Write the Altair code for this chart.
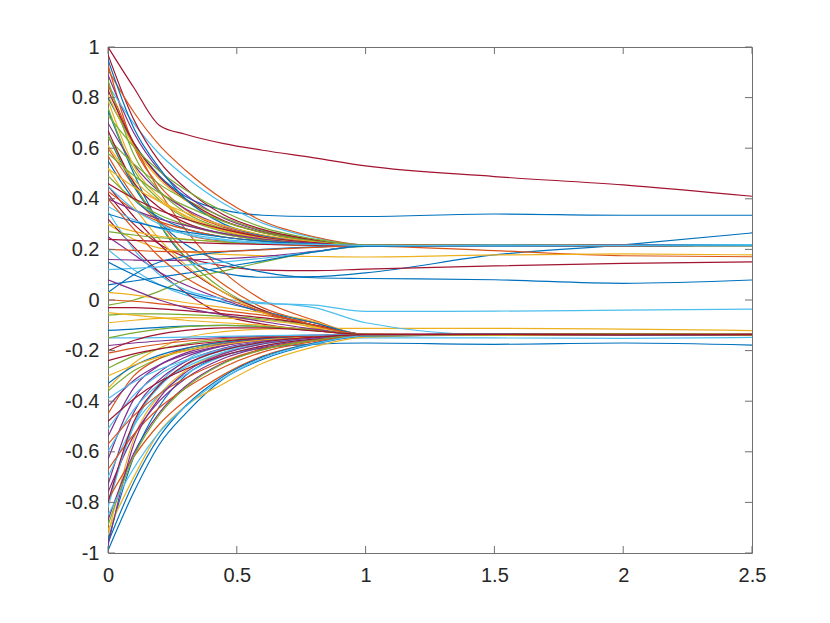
import altair as alt
import pandas as pd

X_KNOTS = [0, 0.1, 0.2, 0.3, 0.45, 0.6, 0.8, 1.0, 1.5, 2.0, 2.5]

X_TICKS = [0, 0.5, 1, 1.5, 2, 2.5]
Y_TICKS = [-1, -0.8, -0.6, -0.4, -0.2, 0, 0.2, 0.4, 0.6, 0.8, 1]

# MATLAB default colour order (lines take colours cyclically in plotting order)
PALETTE = ["#0072BD", "#D95319", "#EDB120", "#7E2F8E", "#77AC30", "#4DBEEE", "#A2142F"]

LINES_A = [
    [0.80, 0.62, 0.49, 0.41, 0.355, 0.335, 0.33, 0.33, 0.34, 0.335, 0.335],
    [0.93, 0.608, 0.451, 0.358, 0.287, 0.251, 0.226, 0.215, 0.216, 0.214, 0.218],
    [-0.93, -0.549, -0.375, -0.280, -0.208, -0.173, -0.149, -0.137, -0.137, -0.135, -0.138],
    [0.89, 0.661, 0.512, 0.418, 0.323, 0.272, 0.235, 0.214, 0.215, 0.217, 0.216],
    [-0.36, -0.280, -0.231, -0.199, -0.170, -0.155, -0.144, -0.137, -0.136, -0.138, -0.136],
    [0.85, 0.698, 0.577, 0.488, 0.380, 0.304, 0.247, 0.218, 0.214, 0.216, 0.219],
    [1.0, 0.84, 0.69, 0.655, 0.618, 0.592, 0.562, 0.53, 0.488, 0.455, 0.41],

    [0.75, 0.50, 0.30, 0.17, 0.105, 0.09, 0.092, 0.107, 0.178, 0.218, 0.265],
    [0.60, 0.45, 0.31, 0.19, 0.06, -0.03, -0.09, -0.137, -0.139, -0.137, -0.135],
    [0.81, 0.608, 0.477, 0.394, 0.310, 0.266, 0.233, 0.216, 0.217, 0.215, 0.215],
    [-0.87, -0.606, -0.445, -0.342, -0.247, -0.196, -0.159, -0.137, -0.135, -0.136, -0.139],
    [0.76, 0.515, 0.395, 0.324, 0.270, 0.242, 0.223, 0.216, 0.216, 0.214, 0.218],
    [-0.82, -0.492, -0.342, -0.260, -0.198, -0.168, -0.147, -0.137, -0.137, -0.135, -0.138],
    [0.42, 0.30, 0.22, 0.17, 0.135, 0.118, 0.116, 0.122, 0.135, 0.145, 0.151],

    [0.65, 0.45, 0.31, 0.22, 0.15, 0.11, 0.088, 0.085, 0.08, 0.066, 0.079],
    [0.57, 0.41, 0.31, 0.26, 0.232, 0.221, 0.216, 0.214, 0.195, 0.175, 0.171],
    [0.30, 0.24, 0.205, 0.19, 0.18, 0.175, 0.172, 0.170, 0.178, 0.182, 0.178],
    [0.70, 0.535, 0.428, 0.361, 0.293, 0.256, 0.230, 0.215, 0.215, 0.217, 0.216],
    [0.65, 0.46, 0.30, 0.17, 0.04, -0.04, -0.10, -0.137, -0.136, -0.138, -0.136],
    [0.20, 0.12, 0.06, 0.02, -0.005, -0.014, -0.02, -0.045, -0.044, -0.04, -0.036],
    [0.32, 0.21, 0.11, 0.03, -0.06, -0.095, -0.12, -0.137, -0.139, -0.137, -0.135],

    [-0.95, -0.62, -0.42, -0.30, -0.22, -0.19, -0.175, -0.17, -0.175, -0.17, -0.178],
    [0.85, 0.62, 0.43, 0.28, 0.11, 0.0, -0.08, -0.136, -0.135, -0.136, -0.139],
    [-0.35, -0.25, -0.19, -0.15, -0.125, -0.115, -0.112, -0.112, -0.112, -0.115, -0.121],
    [0.25, 0.18, 0.11, 0.06, 0.0, -0.05, -0.10, -0.137, -0.137, -0.135, -0.138],
    [-0.02, 0.0, 0.035, 0.08, 0.115, 0.15, 0.19, 0.212, 0.216, 0.215, 0.217],
    [0.35, 0.20, 0.10, 0.04, 0.005, -0.01, -0.03, -0.09, -0.138, -0.136, -0.137],
    [0.45, 0.33, 0.22, 0.13, 0.03, -0.04, -0.10, -0.138, -0.136, -0.138, -0.136],
]

LINES_B = [
    [0.03, 0.10, 0.15, 0.172, 0.19, 0.20, 0.21, 0.215, 0.214, 0.216, 0.219],
    [-0.79, -0.620, -0.490, -0.398, -0.294, -0.222, -0.170, -0.140, -0.137, -0.135, -0.138],
    [0.52, 0.37, 0.24, 0.14, 0.03, -0.05, -0.11, -0.137, -0.136, -0.138, -0.136],
    [-0.76, -0.536, -0.399, -0.311, -0.230, -0.187, -0.156, -0.137, -0.139, -0.137, -0.135],
    [0.64, 0.538, 0.457, 0.398, 0.326, 0.275, 0.236, 0.217, 0.217, 0.215, 0.215],
    [-0.80, -0.50, -0.33, -0.24, -0.18, -0.16, -0.152, -0.15, -0.15, -0.152, -0.148],
    [0.97, 0.713, 0.547, 0.442, 0.336, 0.279, 0.238, 0.215, 0.216, 0.214, 0.218],

    [-0.99, -0.76, -0.57, -0.45, -0.31, -0.235, -0.175, -0.143, -0.137, -0.135, -0.138],
    [0.91, 0.743, 0.611, 0.514, 0.396, 0.312, 0.250, 0.218, 0.215, 0.217, 0.216],
    [-0.91, -0.70, -0.52, -0.42, -0.33, -0.25, -0.185, -0.147, -0.136, -0.138, -0.136],
    [-0.73, -0.445, -0.315, -0.244, -0.190, -0.164, -0.146, -0.137, -0.137, -0.135, -0.138],
    [0.87, 0.575, 0.431, 0.346, 0.281, 0.248, 0.225, 0.216, 0.214, 0.216, 0.219],
    [-0.70, -0.497, -0.373, -0.295, -0.221, -0.182, -0.154, -0.137, -0.136, -0.138, -0.136],
    [0.83, 0.621, 0.486, 0.400, 0.313, 0.267, 0.233, 0.214, 0.216, 0.214, 0.218],

    [-0.96, -0.72, -0.54, -0.42, -0.30, -0.225, -0.17, -0.142, -0.139, -0.137, -0.135],
    [-0.67, -0.531, -0.425, -0.350, -0.265, -0.206, -0.164, -0.140, -0.137, -0.135, -0.138],
    [0.79, 0.531, 0.405, 0.330, 0.273, 0.244, 0.224, 0.215, 0.217, 0.215, 0.215],
    [-0.63, -0.393, -0.285, -0.226, -0.181, -0.159, -0.144, -0.137, -0.136, -0.138, -0.136],
    [0.73, 0.606, 0.509, 0.436, 0.349, 0.287, 0.241, 0.217, 0.215, 0.217, 0.216],
    [-0.60, -0.433, -0.331, -0.267, -0.206, -0.174, -0.151, -0.137, -0.137, -0.135, -0.138],
    [0.67, 0.465, 0.365, 0.306, 0.261, 0.238, 0.222, 0.216, 0.216, 0.214, 0.218],

    [0.95, 0.68, 0.52, 0.40, 0.30, 0.255, 0.226, 0.215, 0.214, 0.216, 0.219],
    [-0.57, -0.457, -0.371, -0.310, -0.241, -0.193, -0.159, -0.139, -0.139, -0.137, -0.135],
    [0.61, 0.476, 0.389, 0.334, 0.278, 0.249, 0.227, 0.214, 0.215, 0.217, 0.216],
    [-0.54, -0.347, -0.258, -0.210, -0.173, -0.155, -0.143, -0.137, -0.137, -0.135, -0.138],
    [0.58, 0.492, 0.423, 0.372, 0.310, 0.266, 0.233, 0.216, 0.217, 0.215, 0.215],
    [-0.51, -0.376, -0.294, -0.241, -0.193, -0.167, -0.148, -0.137, -0.136, -0.138, -0.136],
    [-0.48, -0.391, -0.322, -0.274, -0.219, -0.182, -0.154, -0.139, -0.137, -0.135, -0.138],
]

LINES_C = [
    [0.55, 0.399, 0.326, 0.282, 0.249, 0.232, 0.220, 0.215, 0.216, 0.214, 0.218],
    [-0.45, -0.300, -0.231, -0.193, -0.165, -0.151, -0.142, -0.137, -0.136, -0.138, -0.136],
    [0.52, 0.447, 0.389, 0.346, 0.294, 0.258, 0.230, 0.215, 0.215, 0.217, 0.216],
    [-0.42, -0.318, -0.256, -0.216, -0.179, -0.160, -0.145, -0.137, -0.139, -0.137, -0.135],
    [0.49, 0.397, 0.336, 0.298, 0.259, 0.238, 0.223, 0.215, 0.214, 0.216, 0.219],
    [-0.39, -0.324, -0.274, -0.238, -0.198, -0.170, -0.150, -0.138, -0.137, -0.135, -0.138],
    [0.46, 0.401, 0.355, 0.320, 0.279, 0.249, 0.227, 0.214, 0.216, 0.214, 0.218],

    [-0.33, -0.261, -0.218, -0.191, -0.166, -0.152, -0.143, -0.137, -0.136, -0.138, -0.136],
    [0.43, 0.357, 0.310, 0.280, 0.249, 0.233, 0.221, 0.216, 0.215, 0.217, 0.216],
    [-0.30, -0.258, -0.225, -0.202, -0.176, -0.158, -0.145, -0.138, -0.137, -0.135, -0.138],
    [0.40, 0.356, 0.320, 0.295, 0.263, 0.241, 0.224, 0.215, 0.217, 0.215, 0.215],
    [-0.27, -0.222, -0.193, -0.174, -0.157, -0.148, -0.141, -0.137, -0.139, -0.137, -0.135],
    [0.37, 0.317, 0.283, 0.262, 0.240, 0.228, 0.220, 0.215, 0.214, 0.216, 0.219],
    [-0.24, -0.213, -0.193, -0.178, -0.162, -0.150, -0.142, -0.137, -0.136, -0.138, -0.136],

    [0.34, 0.310, 0.286, 0.269, 0.248, 0.233, 0.221, 0.214, 0.216, 0.214, 0.218],
    [-0.21, -0.19, -0.175, -0.163, -0.152, -0.145, -0.140, -0.137, -0.137, -0.135, -0.138],
    [0.30, 0.271, 0.252, 0.241, 0.229, 0.222, 0.218, 0.215, 0.215, 0.217, 0.216],
    [-0.18, -0.17, -0.162, -0.155, -0.148, -0.143, -0.139, -0.136, -0.136, -0.138, -0.136],
    [0.27, 0.257, 0.246, 0.239, 0.229, 0.223, 0.218, 0.216, 0.217, 0.215, 0.215],
    [-0.15, -0.15, -0.149, -0.147, -0.144, -0.141, -0.139, -0.137, -0.139, -0.137, -0.135],
    [0.24, 0.236, 0.232, 0.228, 0.223, 0.220, 0.217, 0.215, 0.214, 0.216, 0.219],

    [-0.12, -0.115, -0.108, -0.103, -0.10, -0.105, -0.118, -0.137, -0.137, -0.135, -0.138],
    [0.20, 0.196, 0.192, 0.19, 0.192, 0.198, 0.208, 0.215, 0.216, 0.214, 0.218],
    [-0.09, -0.08, -0.073, -0.07, -0.072, -0.08, -0.105, -0.137, -0.136, -0.138, -0.136],
    [0.16, 0.158, 0.157, 0.158, 0.163, 0.172, 0.192, 0.214, 0.215, 0.217, 0.216],
    [-0.06, -0.055, -0.055, -0.058, -0.065, -0.075, -0.10, -0.136, -0.137, -0.135, -0.138],
    [0.12, 0.125, 0.131, 0.138, 0.150, 0.165, 0.190, 0.214, 0.217, 0.215, 0.215],
    [-0.03, -0.03, -0.035, -0.042, -0.055, -0.07, -0.098, -0.137, -0.139, -0.137, -0.135],
]

LINES_D = [
    [0.06, 0.075, 0.09, 0.105, 0.13, 0.155, 0.19, 0.213, 0.214, 0.216, 0.219],
    [0.0, -0.005, -0.015, -0.025, -0.042, -0.06, -0.09, -0.136, -0.137, -0.135, -0.138],
    [0.03, 0.02, 0.005, -0.01, -0.03, -0.05, -0.085, -0.138, -0.136, -0.138, -0.136],
    [-0.97, -0.570, -0.387, -0.287, -0.212, -0.174, -0.150, -0.138, -0.137, -0.135, -0.138],
    [-0.89, -0.619, -0.453, -0.348, -0.250, -0.197, -0.160, -0.136, -0.139, -0.137, -0.135],
    [-0.85, -0.665, -0.522, -0.422, -0.308, -0.230, -0.173, -0.141, -0.136, -0.138, -0.136],
    [-0.80, -0.482, -0.336, -0.256, -0.197, -0.167, -0.147, -0.137, -0.137, -0.135, -0.138],

    [0.15, 0.10, 0.06, 0.03, -0.01, -0.045, -0.09, -0.137, -0.136, -0.138, -0.136],
    [0.40, 0.28, 0.17, 0.09, 0.01, -0.045, -0.10, -0.136, -0.137, -0.135, -0.138],
    [-0.05, -0.06, -0.07, -0.08, -0.09, -0.10, -0.12, -0.137, -0.139, -0.137, -0.135],
    [0.08, 0.04, 0.0, -0.03, -0.06, -0.085, -0.115, -0.138, -0.136, -0.138, -0.136],
    [-0.15, -0.13, -0.115, -0.105, -0.10, -0.105, -0.12, -0.137, -0.137, -0.135, -0.138],
    [0.45, 0.36, 0.30, 0.26, 0.235, 0.225, 0.22, 0.216, 0.214, 0.216, 0.219],
    [-0.20, -0.16, -0.135, -0.12, -0.11, -0.11, -0.122, -0.136, -0.136, -0.138, -0.136],
]

W, H = 644, 506
FONT = "Liberation Sans"
TEXT_COLOR = "#262626"
FRAME_COLOR = "#707070"

all_lines = LINES_A + LINES_B + LINES_C + LINES_D
rows = []
for i, ys in enumerate(all_lines):
    for x, y in zip(X_KNOTS, ys):
        rows.append({"t": x, "v": y, "s": f"s{i:03d}"})
df = pd.DataFrame(rows)
series_ids = [f"s{i:03d}" for i in range(len(all_lines))]
series_colors = [PALETTE[i % len(PALETTE)] for i in range(len(all_lines))]

x_scale = alt.Scale(domain=[0, 2.5], nice=False, zero=False)
y_scale = alt.Scale(domain=[-1, 1], nice=False, zero=False)

lines = alt.Chart(df).mark_line(strokeWidth=1.2, interpolate="monotone", clip=True).encode(
    x=alt.X("t:Q", scale=x_scale,
            axis=alt.Axis(values=X_TICKS, title=None, domain=False, ticks=False, grid=False,
                          labelExpr="toString(datum.value)", labelPadding=12,
                          labelFlush=False, labelOverlap=False,
                          labelFontSize=20, labelFont=FONT, labelColor=TEXT_COLOR)),
    y=alt.Y("v:Q", scale=y_scale,
            axis=alt.Axis(values=Y_TICKS, title=None, domain=False, ticks=False, grid=False,
                          labelExpr="toString(datum.value)", labelPadding=9,
                          labelFlush=False, labelOverlap=False,
                          labelFontSize=20, labelFont=FONT, labelColor=TEXT_COLOR)),
    color=alt.Color("s:N", scale=alt.Scale(domain=series_ids, range=series_colors), legend=None),
    order=alt.Order("t:Q"),
)

xt = pd.DataFrame({"t": X_TICKS})
yt = pd.DataFrame({"v": Y_TICKS})
TL = 7
tick_style = dict(color=FRAME_COLOR, strokeWidth=1)
bottom_ticks = alt.Chart(xt).mark_rule(**tick_style).encode(
    x=alt.X("t:Q", scale=x_scale), y=alt.value(H), y2=alt.value(H - TL))
top_ticks = alt.Chart(xt).mark_rule(**tick_style).encode(
    x=alt.X("t:Q", scale=x_scale), y=alt.value(0), y2=alt.value(TL))
left_ticks = alt.Chart(yt).mark_rule(**tick_style).encode(
    y=alt.Y("v:Q", scale=y_scale), x=alt.value(0), x2=alt.value(TL))
right_ticks = alt.Chart(yt).mark_rule(**tick_style).encode(
    y=alt.Y("v:Q", scale=y_scale), x=alt.value(W - TL), x2=alt.value(W))

chart = alt.layer(lines, bottom_ticks, top_ticks, left_ticks, right_ticks).properties(
    width=W, height=H,
    autosize=alt.AutoSizeParams(type="none"),
    padding={"left": 100, "top": 39, "right": 40, "bottom": 60},
    background="white",
).configure_view(stroke=FRAME_COLOR, strokeWidth=1)

chart.save("out.html", embed_options={"renderer": "svg", "actions": False})
